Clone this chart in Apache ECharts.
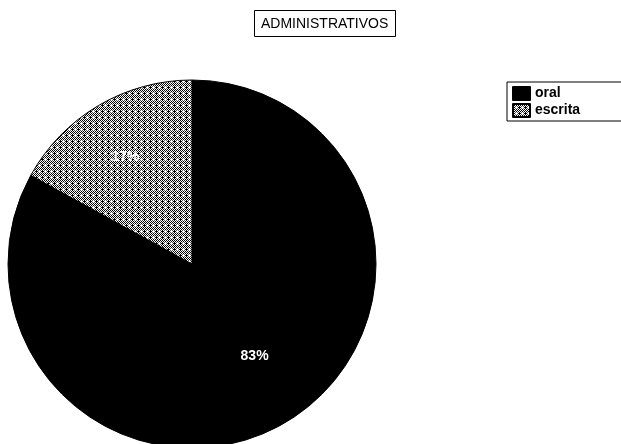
<!DOCTYPE html>
<html>
<head>
<meta charset="utf-8">
<script src="https://cdn.jsdelivr.net/npm/echarts@6/dist/echarts.min.js"></script>
<style>
html,body{margin:0;padding:0;background:#fff;}
#c{width:621px;height:444px;}
</style>
</head>
<body>
<div id="c"></div>
<script>
var titleText = 'ADMINISTRATIVOS';
var categories = ['oral', 'escrita'];
var values = [83, 17];

// halftone-like texture for the "escrita" slice
function makePattern() {
  var n = 12;
  var cv = document.createElement('canvas');
  cv.width = n; cv.height = n;
  var ctx = cv.getContext('2d');
  ctx.fillStyle = '#ffffff';
  ctx.fillRect(0, 0, n, n);
  for (var y = 0; y < n; y++) {
    for (var x = 0; x < n; x++) {
      if ((x + y) % 2 === 0) {
        var dx = (x % 6) - 3, dy = (y % 6) - 3;
        var d = dx * dx + dy * dy;
        ctx.fillStyle = d <= 2 ? '#555555' : '#000000';
        if (d === 0) continue;
        ctx.fillRect(x, y, 1, 1);
      } else if ((x % 6 === 0) && (y % 6 === 3)) {
        ctx.fillStyle = '#000000';
        ctx.fillRect(x, y, 1, 1);
      }
    }
  }
  return cv;
}
var pattern = { image: makePattern(), repeat: 'repeat' };
var colors = ['#000000', pattern];
var labelOffsets = [[2, -10], [-6, -4]];

var chart = echarts.init(document.getElementById('c'), null, { renderer: 'canvas' });
var pieData = categories.map(function (c, i) {
  return { name: c, value: values[i], itemStyle: { color: colors[i] } };
});
var labelData = categories.map(function (c, i) {
  return { name: c, value: values[i], label: { offset: labelOffsets[i] } };
});

chart.setOption({
  backgroundColor: '#ffffff',
  animation: false,
  title: {
    text: titleText,
    left: 254,
    top: 10,
    padding: [7, 7, 6, 7],
    borderColor: '#000',
    borderWidth: 1,
    textStyle: {
      fontFamily: 'Liberation Sans, Arial, sans-serif',
      fontSize: 14,
      fontWeight: 'normal',
      color: '#000'
    }
  },
  legend: {
    orient: 'vertical',
    left: 507,
    top: 82,
    data: categories,
    icon: 'rect',
    itemWidth: 17,
    itemHeight: 13,
    itemGap: 2,
    padding: [4, 50, 3, 5],
    borderColor: '#000',
    borderWidth: 1,
    textStyle: {
      fontFamily: 'Liberation Sans, Arial, sans-serif',
      fontSize: 14,
      fontWeight: 'bold',
      color: '#000'
    },
    selectedMode: false
  },
  series: [
    {
      type: 'pie',
      center: [192, 264],
      radius: [0, 184],
      startAngle: 90,
      clockwise: true,
      silent: true,
      label: { show: false },
      labelLine: { show: false },
      itemStyle: { borderColor: '#000', borderWidth: 1 },
      emphasis: { disabled: true },
      data: pieData
    },
    {
      type: 'pie',
      center: [192, 264],
      radius: [0, 232],
      startAngle: 90,
      clockwise: true,
      silent: true,
      itemStyle: { color: 'rgba(0,0,0,0)', borderWidth: 0 },
      label: {
        show: true,
        position: 'inside',
        formatter: '{c}%',
        color: '#ffffff',
        fontFamily: 'Liberation Sans, Arial, sans-serif',
        fontSize: 14,
        fontWeight: 'bold',
        textBorderWidth: 0
      },
      labelLine: { show: false },
      emphasis: { disabled: true },
      data: labelData
    }
  ]
});
</script>
</body>
</html>
